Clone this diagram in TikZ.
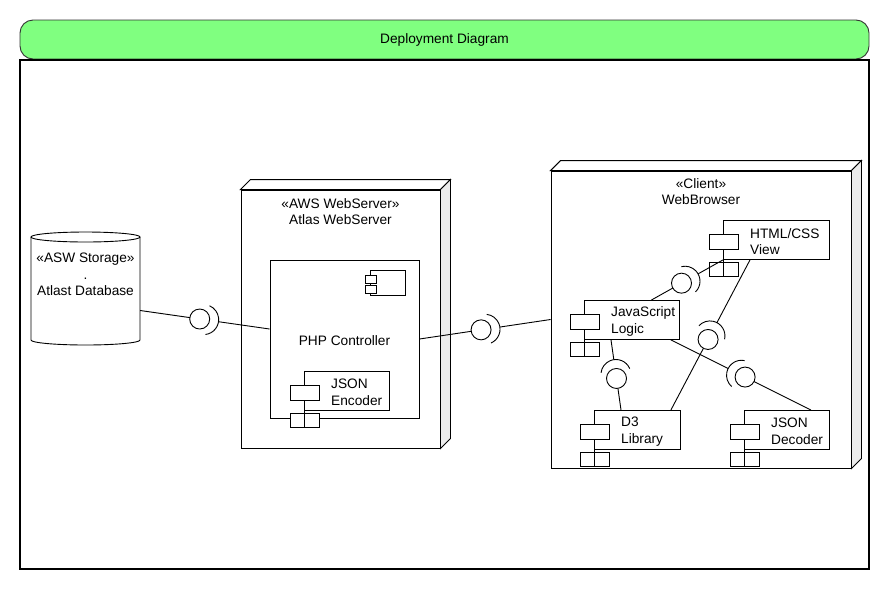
\documentclass[tikz,border=0pt]{standalone}
\usepackage{fontspec}
\setmainfont{Liberation Sans}
\usetikzlibrary{calc}
\definecolor{titlegreen}{RGB}{128,255,128}
\definecolor{sidegray}{RGB}{236,236,236}
\tikzset{
  umlline/.style={draw=black, line width=0.9pt},
  txt/.style={font=\fontsize{13.7pt}{16.5pt}\selectfont, inner sep=0pt, align=center},
  comptext/.style={font=\fontsize{13.7pt}{16.5pt}\selectfont, inner sep=0pt, align=left},
  plainbox/.style={umlline, fill=white, rectangle, inner sep=0pt},
  compbox/.style={plainbox, minimum height=39pt},
  titlebar/.style={draw=black!80, line width=0.9pt, fill=titlegreen, rounded corners=13pt, inner sep=0pt,
     minimum width=849pt, minimum height=39pt, font=\fontsize{13.7pt}{16.5pt}\selectfont},
  frame/.style={draw=black, line width=1.3pt, inner sep=0pt, minimum width=849pt, minimum height=509pt},
}
\newcommand{\umlcomp}[5]{%
  \node[compbox, minimum width=#4pt, anchor=north west] (#1) at (#2,#3) {};
  \draw[umlline] (#1.north west) -- ([yshift=-17pt]#1.south west);
  \draw[umlline, fill=white] ([xshift=-14pt,yshift=-14pt]#1.north west) rectangle ++(29pt,-15pt);
  \draw[umlline, fill=white] ([xshift=-14pt,yshift=-3pt]#1.south west) rectangle ++(29pt,-14pt);
  \draw[umlline] ([yshift=-3pt]#1.south west) -- ++(0pt,-14pt);
  \node[comptext, anchor=west] (#1t) at ([xshift=27pt,yshift=-1.5pt]#1.west) {#5};
}
\newcommand{\nodeboxd}[1]{%
  \draw[umlline, fill=white] (#1.north west) -- ++(10pt,10pt) -- ([shift={(10pt,10pt)}]#1.north east) -- (#1.north east) -- cycle;
  \draw[umlline, fill=sidegray] (#1.north east) -- ++(10pt,10pt) -- ([shift={(10pt,10pt)}]#1.south east) -- (#1.south east) -- cycle;
}
\newcommand{\lolli}[3]{%
  \path (#1) -- (#2) coordinate[pos=#3] (bc);
  \coordinate (sc) at ($(bc)!4pt!(#2)$);
  \draw[umlline] (#1) -- ($(bc)!10pt!(#1)$);
  \draw[umlline] (bc) circle[radius=10pt];
  \draw[umlline] ($(sc)!15pt!(#2)$) -- (#2);
  \draw[umlline] let \p1=($(#2)-(sc)$), \n1={atan2(\y1,\x1)} in
     ($(sc)+(\n1-75:15pt)$) arc[start angle=\n1-75, end angle=\n1+75, radius=15pt];
}
\begin{document}
\begin{tikzpicture}[x=1pt, y=-1pt]
\useasboundingbox (0,0) rectangle (890,590);
% title and frame
\node[titlebar] (title) at (444.5,39.5) {Deployment Diagram};
\node[frame] (frame) at (444.5,314.5) {};
% database
\draw[umlline, fill=white] (31,237) -- (31,340) arc[start angle=180, end angle=360, x radius=54.5pt, y radius=5pt] -- (140,237);
\draw[umlline] (85.5,237) ellipse [x radius=54.5pt, y radius=5pt];
\node[inner sep=0pt, minimum width=109pt, minimum height=113pt] (db) at (85.5,288.5) {};
\node[txt] (dbtext) at (85.5,274.5) {«ASW Storage»\\.\\Atlast Database};
% AWS node
\node[plainbox, minimum width=199pt, minimum height=258pt] (aws) at (340.5,319) {};
\nodeboxd{aws}
\node[txt] (awstext) at ([yshift=-22pt]aws.north) {«AWS WebServer»\\Atlas WebServer};
\node[plainbox, minimum width=149pt, minimum height=158pt] (php) at (344.5,339) {};
\node[txt] (phptext) at ([yshift=-2pt]php.center) {PHP Controller};
\draw[umlline] (370,270) rectangle (405.5,295.5);
\draw[umlline, fill=white] (365.5,275) rectangle (376,283);
\draw[umlline, fill=white] (365.5,285) rectangle (376,293);
\umlcomp{enc}{304}{371}{85}{JSON\\Encoder}
% client node
\node[plainbox, minimum width=300pt, minimum height=297pt] (client) at (701,319.5) {};
\nodeboxd{client}
\node[txt] (cltext) at ([yshift=-21pt]client.north) {«Client»\\WebBrowser};
\umlcomp{html}{723}{220}{106}{HTML/CSS\\View}
\umlcomp{js}{584}{300}{95}{JavaScript\\Logic}
\umlcomp{d3}{594}{410}{86}{D3\\Library}
\umlcomp{dec}{744}{410}{85}{JSON\\Decoder}
% connection points
\coordinate (dbR) at ([yshift=-22pt]db.east);
\coordinate (phpL) at ([yshift=10pt]php.west);
\coordinate (phpR) at (php.east);
\coordinate (clL) at (client.west);
\coordinate (jsT) at ([xshift=19.5pt]js.north);
\coordinate (htmlBL) at (html.south west);
\coordinate (htmlB) at ([xshift=27pt]html.south west);
\coordinate (d3T1) at ([xshift=27pt]d3.north west);
\coordinate (d3T2) at ([xshift=-10pt]d3.north east);
\coordinate (jsB1) at ([xshift=27pt]js.south west);
\coordinate (jsB2) at ([xshift=-9pt]js.south east);
\coordinate (decT) at ([xshift=-19pt]dec.north east);
% connectors with ball and socket
\lolli{dbR}{phpL}{0.46}
\lolli{phpR}{clL}{0.47}
\lolli{jsT}{htmlBL}{0.42}
\lolli{d3T2}{htmlB}{0.47}
\lolli{d3T1}{jsB1}{0.45}
\lolli{decT}{jsB2}{0.47}
\end{tikzpicture}
\end{document}
